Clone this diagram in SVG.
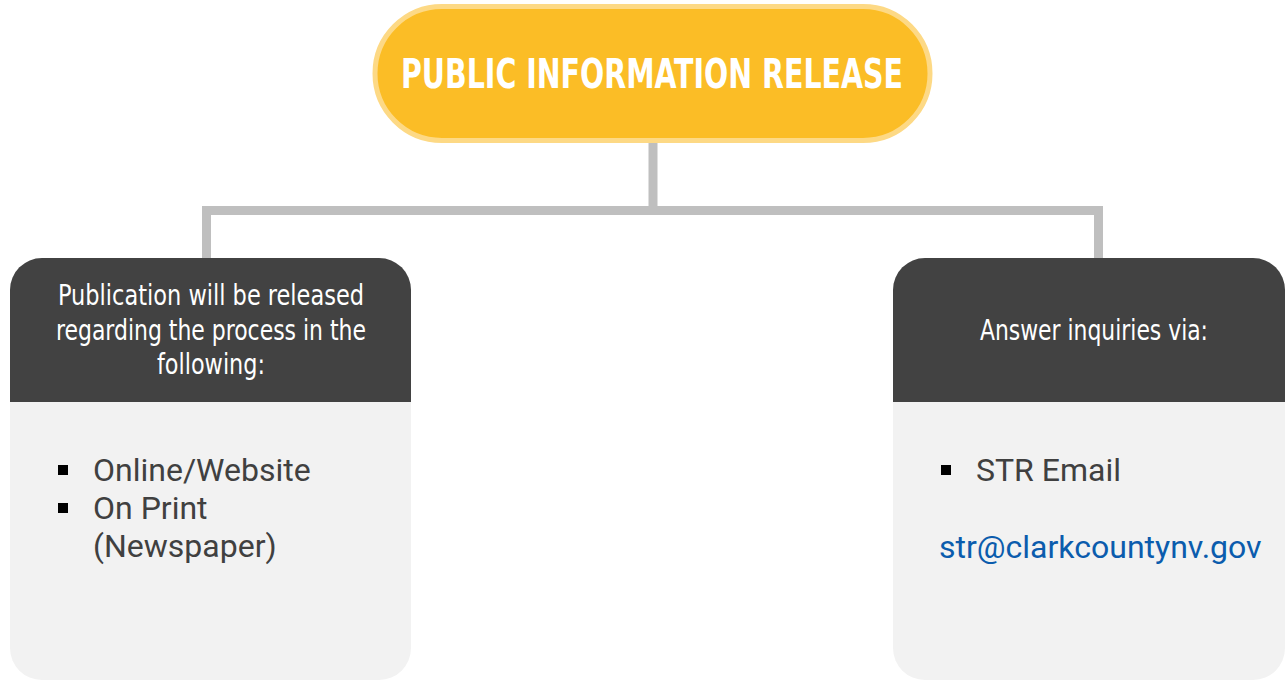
<svg xmlns="http://www.w3.org/2000/svg" width="1285" height="680" viewBox="0 0 1285 680">
<style>
.hdr{fill:#424242}
.body{fill:#F2F2F2}
.htxt{font-family:"DejaVu Sans Condensed","Liberation Sans",sans-serif;font-size:27.5px;fill:#FFFFFF;text-anchor:middle}
.btxt{font-family:Roboto,"Liberation Sans",sans-serif;font-size:32px;fill:#404040}
.bullet{fill:#000000}
.conn{fill:none;stroke:#BFBFBF;stroke-width:9}
</style>
<rect width="1285" height="680" fill="#FFFFFF"/>
<g id="connectors">
<path class="conn" d="M653,143 V210.5"/>
<path class="conn" d="M206.5,258 V210.5 H1098.5 V258"/>
</g>
<g id="title">
<rect x="375" y="6.5" width="555" height="134" rx="67" ry="67" fill="#FBBD26" stroke="#FDD985" stroke-width="5"/>
<text x="652" y="87.5" font-family="'DejaVu Sans Condensed','Liberation Sans',sans-serif" font-weight="bold" font-size="40" fill="#FFFFFF" text-anchor="middle" textLength="502" lengthAdjust="spacingAndGlyphs">PUBLIC INFORMATION RELEASE</text>
</g>
<g id="left-node">
<path class="hdr" d="M10,402 V290 A32,32 0 0 1 42,258 H379 A32,32 0 0 1 411,290 V402 Z"/>
<path class="body" d="M10,402 H411 V648 A32,32 0 0 1 379,680 H42 A32,32 0 0 1 10,648 Z"/>
<text class="htxt" x="211" y="305" textLength="306" lengthAdjust="spacingAndGlyphs">Publication will be released</text>
<text class="htxt" x="211" y="340" textLength="310" lengthAdjust="spacingAndGlyphs">regarding the process in the</text>
<text class="htxt" x="211" y="374" textLength="108" lengthAdjust="spacingAndGlyphs">following:</text>
<rect class="bullet" x="58" y="465" width="10" height="10"/>
<text class="btxt" x="93" y="481">Online/Website</text>
<rect class="bullet" x="58" y="503" width="10" height="10"/>
<text class="btxt" x="93" y="519">On Print</text>
<text class="btxt" x="93" y="557">(Newspaper)</text>
</g>
<g id="right-node">
<path class="hdr" d="M893,402 V290 A32,32 0 0 1 925,258 H1253 A32,32 0 0 1 1285,290 V402 Z"/>
<path class="body" d="M893,402 H1285 V648 A32,32 0 0 1 1253,680 H925 A32,32 0 0 1 893,648 Z"/>
<text class="htxt" x="1094" y="340" textLength="228" lengthAdjust="spacingAndGlyphs">Answer inquiries via:</text>
<rect class="bullet" x="941" y="465" width="10" height="10"/>
<text class="btxt" x="976" y="481">STR Email</text>
<text class="btxt" x="939" y="558" style="fill:#0B5CAD">str@clarkcountynv.gov</text>
</g>
</svg>
